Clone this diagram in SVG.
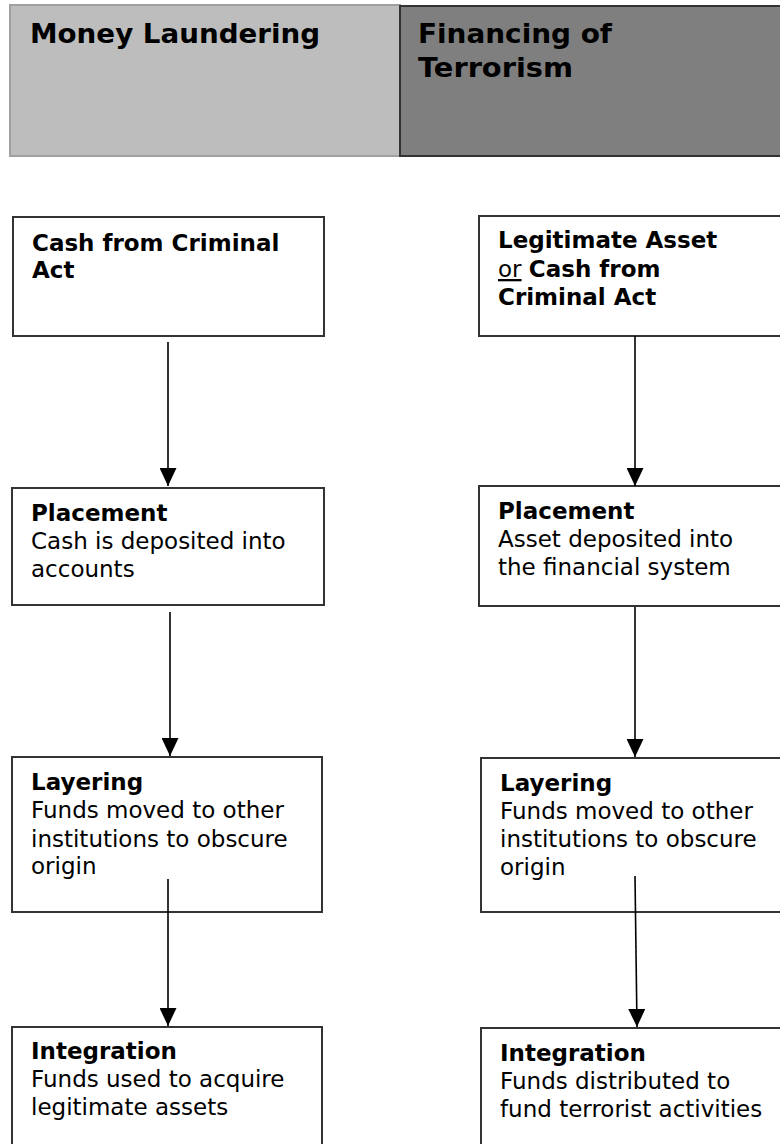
<svg xmlns="http://www.w3.org/2000/svg" width="780" height="1144" viewBox="0 0 780 1144">
<style>
  .box { fill: #ffffff; stroke: #333333; stroke-width: 2; }
  .t { font-family: "DejaVu Sans", Verdana, sans-serif; font-size: 23px; fill: #000; }
  .b { font-weight: bold; }
  .h { font-family: "DejaVu Sans", Verdana, sans-serif; font-size: 26px; font-weight: bold; fill: #000; }
  .conn { stroke: #000; stroke-width: 1.6; fill: none; marker-end: url(#arrow); }
</style>
<defs>
  <marker id="arrow" markerWidth="18" markerHeight="17" refX="18" refY="8.5" orient="auto" markerUnits="userSpaceOnUse" viewBox="0 0 18 17">
    <path d="M0,0 L18,8.5 L0,17 Z" fill="#000"/>
  </marker>
</defs>
<rect width="780" height="1144" fill="#ffffff"/>

<g id="header-ml">
  <rect x="10" y="5" width="390" height="151" fill="#bdbdbd" stroke="#a0a0a0" stroke-width="2"/>
  <text class="h" x="30" y="43" textLength="290" lengthAdjust="spacingAndGlyphs">Money Laundering</text>
</g>
<g id="header-ft">
  <rect x="400" y="6" width="381" height="150" fill="#7f7f7f" stroke="#333333" stroke-width="2"/>
  <text class="h" x="418" y="43" textLength="194" lengthAdjust="spacingAndGlyphs">Financing of</text>
  <text class="h" x="418" y="77" textLength="155" lengthAdjust="spacingAndGlyphs">Terrorism</text>
</g>

<g id="ml-cash">
  <rect class="box" x="13" y="217" width="311" height="119"/>
  <text class="t b" x="32" y="251">Cash from Criminal</text>
  <text class="t b" x="32" y="278">Act</text>
</g>
<g id="ft-asset">
  <rect class="box" x="479" y="216" width="303" height="120"/>
  <text class="t b" x="498" y="248">Legitimate Asset</text>
  <text class="t" x="498" y="277"><tspan text-decoration="underline">or</tspan> <tspan class="b">Cash from</tspan></text>
  <text class="t b" x="498" y="305">Criminal Act</text>
</g>

<g id="ml-placement">
  <rect class="box" x="12" y="488" width="312" height="117"/>
  <text class="t b" x="31" y="521">Placement</text>
  <text class="t" x="31" y="549">Cash is deposited into</text>
  <text class="t" x="31" y="577">accounts</text>
</g>
<g id="ft-placement">
  <rect class="box" x="479" y="486" width="303" height="120"/>
  <text class="t b" x="498" y="519">Placement</text>
  <text class="t" x="498" y="547">Asset deposited into</text>
  <text class="t" x="498" y="575">the financial system</text>
</g>

<g id="ml-layering">
  <rect class="box" x="12" y="757" width="310" height="155"/>
  <text class="t b" x="31" y="790">Layering</text>
  <text class="t" x="31" y="818">Funds moved to other</text>
  <text class="t" x="31" y="847">institutions to obscure</text>
  <text class="t" x="31" y="874">origin</text>
</g>
<g id="ft-layering">
  <rect class="box" x="481" y="758" width="301" height="154"/>
  <text class="t b" x="500" y="791">Layering</text>
  <text class="t" x="500" y="819">Funds moved to other</text>
  <text class="t" x="500" y="847">institutions to obscure</text>
  <text class="t" x="500" y="875">origin</text>
</g>

<g id="ml-integration">
  <rect class="box" x="12" y="1027" width="310" height="130"/>
  <text class="t b" x="31" y="1059">Integration</text>
  <text class="t" x="31" y="1087">Funds used to acquire</text>
  <text class="t" x="31" y="1115">legitimate assets</text>
</g>
<g id="ft-integration">
  <rect class="box" x="481" y="1028" width="301" height="130"/>
  <text class="t b" x="500" y="1061">Integration</text>
  <text class="t" x="500" y="1089">Funds distributed to</text>
  <text class="t" x="500" y="1117">fund terrorist activities</text>
</g>

<g id="connectors">
  <line class="conn" x1="168" y1="342" x2="168" y2="486"/>
  <line class="conn" x1="170" y1="612" x2="170" y2="756"/>
  <line class="conn" x1="168" y1="879" x2="168" y2="1026"/>
  <line class="conn" x1="635" y1="336" x2="635" y2="486"/>
  <line class="conn" x1="635" y1="607" x2="635" y2="757"/>
  <line class="conn" x1="635" y1="876" x2="637" y2="1027"/>
</g>
</svg>
